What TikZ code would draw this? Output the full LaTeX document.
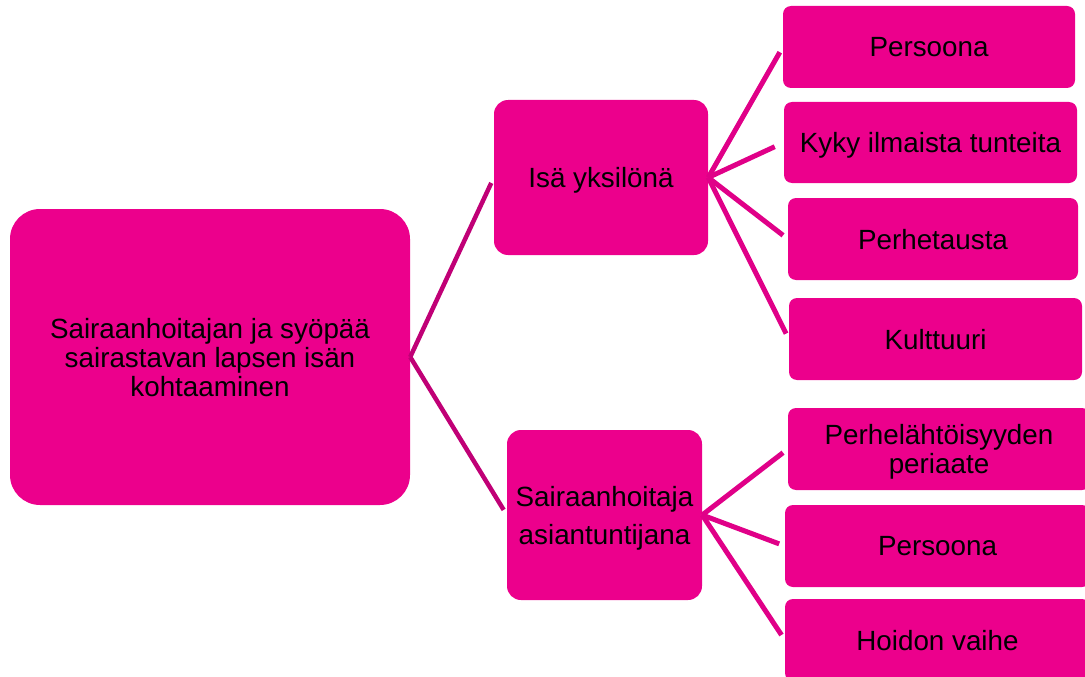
\documentclass[tikz,border=0pt]{standalone}
\usepackage{fontspec}
\setmainfont{Liberation Sans}
\definecolor{boxfill}{RGB}{236,0,140}
\definecolor{lineA}{RGB}{192,0,118}
\definecolor{lineB}{RGB}{224,0,136}
\begin{document}
\begin{tikzpicture}[x=1pt,y=-1pt,
  box/.style={fill=boxfill, draw=none, inner sep=0pt, align=center,
    font=\fontsize{27.8}{29}\selectfont, text=black, text depth=0pt},
  leaf/.style={box, rounded corners=8pt, minimum height=82pt},
  connA/.style={draw=lineA, line width=4.5pt, shorten >=6pt},
  connB/.style={draw=lineB, line width=5pt, shorten >=6pt}]
\useasboundingbox (0,0) rectangle (1085,677);
\clip (0,0) rectangle (1085,677);
% nodes
\node[box, rounded corners=30pt, minimum width=400pt, minimum height=296pt] (root) at (210,357)
  {Sairaanhoitajan ja syöpää\\sairastavan lapsen isän\\kohtaaminen};
\node[box, rounded corners=14pt, minimum width=214pt, minimum height=155pt] (isa) at (601,177.5)
  {Isä yksilönä};
\node[box, rounded corners=14pt, minimum width=195pt, minimum height=170pt,
  font=\fontsize{27.8}{38}\selectfont] (sair) at (604.5,515)
  {Sairaanhoitaja\\asiantuntijana};
\node[leaf, minimum width=292pt] (p1) at (929,47) {Persoona};
\node[leaf, minimum width=293pt, minimum height=81pt] (kyky) at (930.5,142.5) {Kyky ilmaista tunteita};
\node[leaf, minimum width=290pt] (perhe) at (933,239) {Perhetausta};
\node[leaf, minimum width=293pt] (kult) at (935.5,339) {Kulttuuri};
\node[leaf, minimum width=302pt] (perheL) at (939,449) {Perhelähtöisyyden\\periaate};
\node[leaf, minimum width=305pt] (p2) at (937.5,546) {Persoona};
\node[leaf, minimum width=305pt] (hoid) at (937.5,640) {Hoidon vaihe};
% connectors
\draw[connA] (root.east) -- (isa.west);
\draw[connA] (root.east) -- (sair.west);
\draw[connB] (isa.east) -- (p1.west);
\draw[connB, shorten >=10pt] (isa.east) -- (kyky.west);
\draw[connB] (isa.east) -- (perhe.west);
\draw[connB] (isa.east) -- (kult.west);
\draw[connB] (sair.east) -- (perheL.west);
\draw[connB] (sair.east) -- (p2.west);
\draw[connB] (sair.east) -- (hoid.west);
\end{tikzpicture}
\end{document}
